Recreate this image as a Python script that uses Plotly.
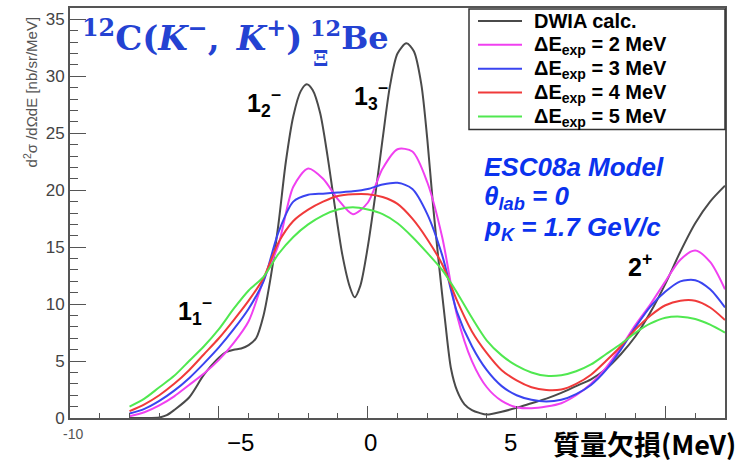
import plotly.graph_objects as go

# ---------------- data ----------------
dwia_x = [-8, -7.5, -7, -6.75, -6.5, -6.0, -5.5, -5.0, -4.75, -4.5, -4.25, -4.0, -3.75, -3.5,
          -3.25, -3.0, -2.75, -2.5, -2.25, -2.05, -1.85, -1.6, -1.35, -1.1, -0.85, -0.6, -0.44,
          -0.25, 0.0, 0.25, 0.5, 0.75, 1.0, 1.3, 1.55, 1.8, 2.0, 2.2, 2.4, 2.6, 2.8, 3.0, 3.25,
          3.5, 3.75, 4.0, 4.5, 5.0, 5.5, 6.0, 6.5, 7.0, 7.5, 8.0, 8.5, 9.0, 9.5, 10.0, 10.5,
          11.0, 11.5, 12.0]
dwia_y = [0.0, 0.0, 0.05, 0.25, 0.7, 1.8, 3.8, 5.3, 5.8, 6.0, 6.1, 6.4, 7.0, 9.0,
          12.5, 17.0, 22.5, 26.5, 28.7, 29.3, 28.8, 26.8, 23.0, 18.5, 14.3, 11.5, 10.6,
          11.6, 15.0, 19.5, 24.5, 29.2, 32.0, 32.9, 32.2, 29.3, 24.5, 18.5, 13.3, 8.5, 4.3, 2.4, 1.2,
          0.7, 0.45, 0.3, 0.55, 0.9, 1.3, 1.7, 2.2, 2.8, 3.4, 4.3, 5.6, 7.2, 9.3, 11.8, 14.6,
          17.1, 19.0, 20.4]

smear_x = [-8, -7.5, -7, -6.5, -6, -5.5, -5, -4.5, -4, -3.5, -3, -2.5, -2, -1.5, -1, -0.5,
           0, 0.5, 1.0, 1.5, 2.0, 2.5, 3.0, 3.5, 4.0, 4.5, 5.0, 5.5, 6.0, 6.5, 7.0, 7.5,
           8.0, 8.5, 9.0, 9.5, 10.0, 10.5, 11.0, 11.5, 12.0]
res2_y = [0.15, 0.5, 1.1, 1.9, 2.9, 3.9, 5.1, 6.6, 8.5, 12.1, 15.2, 20.3, 21.9, 21.0, 19.2, 17.9,
          18.9, 21.9, 23.6, 23.4, 20.7, 15.9, 9.0, 5.0, 2.7, 1.5, 0.95, 0.85, 1.0, 1.3, 2.0, 3.0,
          4.4, 6.2, 8.2, 10.0, 12.0, 13.9, 14.7, 13.7, 11.3]
res3_y = [0.4, 0.8, 1.5, 2.4, 3.5, 4.8, 6.2, 7.8, 9.6, 12.0, 16.3, 19.0, 19.6, 19.7, 19.8, 19.9,
          20.1, 20.5, 20.65, 20.1, 17.9, 14.3, 9.3, 6.3, 4.2, 2.8, 2.0, 1.6, 1.45, 1.6, 2.1, 2.9,
          4.2, 6.0, 8.0, 9.8, 11.1, 12.0, 12.1, 11.3, 9.7]
res4_y = [0.6, 1.2, 2.0, 3.0, 4.2, 5.6, 7.0, 8.6, 10.3, 12.3, 15.4, 17.3, 18.3, 19.0, 19.5, 19.65,
          19.65, 19.4, 18.8, 17.5, 15.7, 13.5, 10.3, 7.6, 5.7, 4.2, 3.3, 2.7, 2.45, 2.5, 3.0, 3.8,
          5.0, 6.3, 7.8, 9.0, 9.9, 10.3, 10.3, 9.7, 8.6]
res5_y = [1.0, 1.7, 2.7, 3.7, 5.0, 6.3, 7.8, 9.6, 11.2, 12.4, 14.4, 15.9, 17.0, 17.8, 18.3, 18.5,
          18.3, 17.9, 17.1, 15.9, 14.5, 13.0, 11.0, 8.8, 6.8, 5.5, 4.6, 4.0, 3.7, 3.75, 4.1, 4.7,
          5.6, 6.5, 7.5, 8.3, 8.8, 8.9, 8.7, 8.2, 7.5]

series_names = ["<b>DWIA calc.</b>",
                "<b>ΔE<sub>exp</sub> = 2 MeV</b>",
                "<b>ΔE<sub>exp</sub> = 3 MeV</b>",
                "<b>ΔE<sub>exp</sub> = 4 MeV</b>",
                "<b>ΔE<sub>exp</sub> = 5 MeV</b>"]
series_colors = ["#4a4a4a", "#f040f0", "#3a44f0", "#f03a3a", "#50e850"]

y_tick_vals = [0, 5, 10, 15, 20, 25, 30, 35]
y_tick_text = ["0", "5", "10", "15", "20", "25", "30", "35"]

# ---------------- figure ----------------
W, H = 741, 462
ML, MR, MT, MB = 70, 16, 6, 44
PW, PH = W - ML - MR, H - MT - MB


def px(x, y):
    return (x - ML) / PW, (H - MB - y) / PH


fig = go.Figure()
all_y = [dwia_y, res2_y, res3_y, res4_y, res5_y]
all_x = [dwia_x, smear_x, smear_x, smear_x, smear_x]
for name, col, xs, ys in zip(series_names, series_colors, all_x, all_y):
    fig.add_trace(go.Scatter(x=xs, y=ys, mode="lines", name=name, showlegend=False,
                             line=dict(color=col, width=2, shape="spline", smoothing=0.8)))

ann = []
shapes = []


def add_text(text, x, y, size, color="black", family="Liberation Sans", xanchor="left",
             yanchor="middle", angle=0):
    ax, ay = px(x, y)
    ann.append(dict(text=text, x=ax, y=ay, xref="paper", yref="paper", showarrow=False,
                    xanchor=xanchor, yanchor=yanchor, textangle=angle,
                    font=dict(size=size, color=color, family=family)))


# ----- legend box (ROOT TLegend style) -----
lx0, ly0 = px(469, 7)
lx1, ly1 = px(725, 128)
shapes.append(dict(type="rect", xref="paper", yref="paper", x0=lx0, y0=ly1, x1=lx1, y1=ly0,
                   fillcolor="white", line=dict(color="#333333", width=1.5), layer="above"))
for i, (name, col) in enumerate(zip(series_names, series_colors)):
    yc = 19 + 24 * i
    a0 = px(478, yc)
    a1 = px(522, yc)
    shapes.append(dict(type="line", xref="paper", yref="paper", x0=a0[0], y0=a0[1],
                       x1=a1[0], y1=a1[1], line=dict(color=col, width=2), layer="above"))
    add_text(name, 532, yc + (0 if i == 0 else 1), 20)

# Title formula (pre-scripts stacked like the LaTeX original)
tcol = "#2442d2"
add_text("<b><sup>12</sup>C(<i>K</i><sup>−</sup>,\u2002<i>K</i><sup>+</sup>)</b>",
         80, 34, 34, color=tcol, family="DejaVu Serif")
add_text("<b><sup>12</sup>Be</b>", 308, 34, 32, color=tcol, family="DejaVu Serif")
add_text("<b>Ξ</b>", 320, 56, 22, color=tcol, family="DejaVu Serif", xanchor="center")
# state labels
add_text("<b>1<sub>2</sub><sup>−</sup></b>", 245, 101, 25)
add_text("<b>1<sub>3</sub><sup>−</sup></b>", 352, 94, 25)
add_text("<b>1<sub>1</sub><sup>−</sup></b>", 176, 310, 25)
add_text("<b>2<sup>+</sup></b>", 626, 264, 25)
# model text
blue = "#0a32ee"
add_text("<b><i>ESC08a Model</i></b>", 482, 166, 26, color=blue)
add_text("<b><i>θ<sub>lab</sub> = 0</i></b>", 482, 196, 26, color=blue)
add_text("<b><i>p<sub>K</sub> = 1.7 GeV/c</i></b>", 482, 228, 26, color=blue)
# axis labels
add_text("d<sup>2</sup>σ /dΩdE [nb/sr/MeV]", 30, 13, 15, color="#555555",
         xanchor="center", yanchor="top", angle=-90)
add_text("-10", 73, 434, 14, color="#555555", xanchor="center")
add_text("−5", 240, 443, 24, xanchor="center")
add_text("0", 370, 443, 24, xanchor="center")
add_text("5", 510, 443, 24, xanchor="center")
add_text("<b>質量欠損(MeV)</b>", 738, 444, 27, family="Noto Sans CJK JP", xanchor="right")

frame_col = "#555555"
fig.update_layout(
    width=W, height=H,
    margin=dict(l=ML, r=MR, t=MT, b=MB),
    paper_bgcolor="white", plot_bgcolor="white",
    annotations=ann,
    shapes=shapes,
    showlegend=False,
    xaxis=dict(range=[-10, 12], showgrid=False, zeroline=False, showline=True,
               linecolor=frame_col, linewidth=2, mirror=True,
               ticks="inside", ticklen=12, tickwidth=1.2, tickcolor=frame_col, dtick=5, tick0=0,
               showticklabels=False,
               minor=dict(ticks="inside", ticklen=5, dtick=1, tickcolor=frame_col, tickwidth=1.2)),
    yaxis=dict(range=[0, 36], showgrid=False, zeroline=False, showline=True,
               linecolor=frame_col, linewidth=2, mirror=True,
               ticks="inside", ticklen=16, tickwidth=1.2, tickcolor=frame_col,
               tickvals=y_tick_vals, ticktext=y_tick_text,
               tickfont=dict(family="Liberation Sans", size=17, color="#444444"),
               minor=dict(ticks="inside", ticklen=8, dtick=1, tickcolor=frame_col, tickwidth=1.2)),
)

fig.write_html("out.html", config={"displayModeBar": False},
               post_script="document.body.style.margin='0';")
